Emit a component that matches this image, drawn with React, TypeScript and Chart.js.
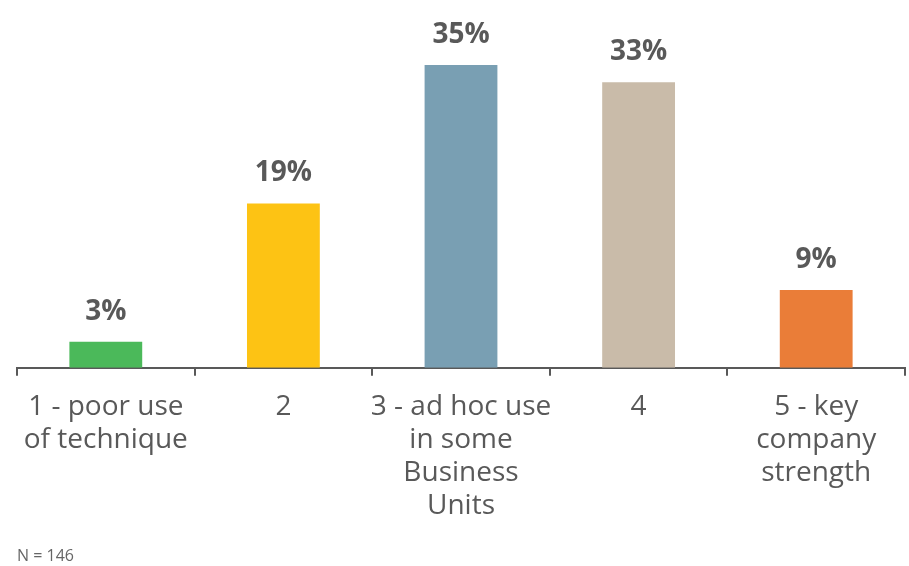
import React, { useEffect, useRef } from "react";
import { Chart, registerables } from "chart.js";

Chart.register(...registerables);

const categories: string[][] = [
  ["1 - poor use", "of technique"],
  ["2"],
  ["3 - ad hoc use", "in some", "Business", "Units"],
  ["4"],
  ["5 - key", "company", "strength"],
];
const values: number[] = [3, 19, 35, 33, 9];
const valueLabels: string[] = ["3%", "19%", "35%", "33%", "9%"];
const barColors: string[] = ["#4BB95A", "#FDC314", "#799FB3", "#C9BBA9", "#EA7D38"];
const footnote = "N = 146";

const TEXT = "#595959";
const FONT = "'Open Sans', 'DejaVu Sans', sans-serif";

export default function App() {
  const ref = useRef<HTMLCanvasElement | null>(null);

  useEffect(() => {
    document.body.style.margin = "0";
    if (!ref.current) return;
    const labelPlugin = {
      id: "valueLabels",
      afterDatasetsDraw(chart: any) {
        const ctx = chart.ctx;
        const meta = chart.getDatasetMeta(0);
        ctx.save();
        ctx.fillStyle = TEXT;
        ctx.font = `bold 28px ${FONT}`;
        ctx.textAlign = "center";
        ctx.textBaseline = "alphabetic";
        meta.data.forEach((bar: any, i: number) => {
          ctx.fillText(valueLabels[i], bar.x, bar.y - 22);
        });
        ctx.restore();
      },
    };
    const chart = new Chart(ref.current, {
      type: "bar",
      data: {
        labels: categories,
        datasets: [
          {
            data: values,
            backgroundColor: barColors,
            borderWidth: 0,
            categoryPercentage: 1,
            barPercentage: 0.41,
          },
        ],
      },
      options: {
        animation: false,
        responsive: false,
        maintainAspectRatio: false,
        layout: { padding: { left: 17, right: 4, top: 0, bottom: 28 } },
        plugins: {
          legend: { display: false },
          tooltip: { enabled: false },
          title: { display: false },
        },
        scales: {
          y: {
            display: false,
            min: 0,
            max: 42.5,
          },
          x: {
            grid: {
              offset: true,
              drawOnChartArea: false,
              drawTicks: true,
              tickLength: 8,
              color: TEXT,
              lineWidth: 2,
            },
            border: { display: true, color: TEXT, width: 2 },
            ticks: {
              color: TEXT,
              font: { family: FONT, size: 28, lineHeight: 1.18 },
              padding: 15,
              maxRotation: 0,
              autoSkip: false,
            },
          },
        },
      },
      plugins: [labelPlugin],
    });
    return () => chart.destroy();
  }, []);

  return (
    <div style={{ position: "relative", width: 909, height: 566, background: "#fff" }}>
      <canvas ref={ref} width={909} height={566} style={{ display: "block" }} />
      <div
        style={{
          position: "absolute",
          left: 17,
          top: 545,
          fontFamily: FONT,
          fontSize: 16,
          color: "#666",
          lineHeight: "20px",
        }}
      >
        {footnote}
      </div>
    </div>
  );
}
